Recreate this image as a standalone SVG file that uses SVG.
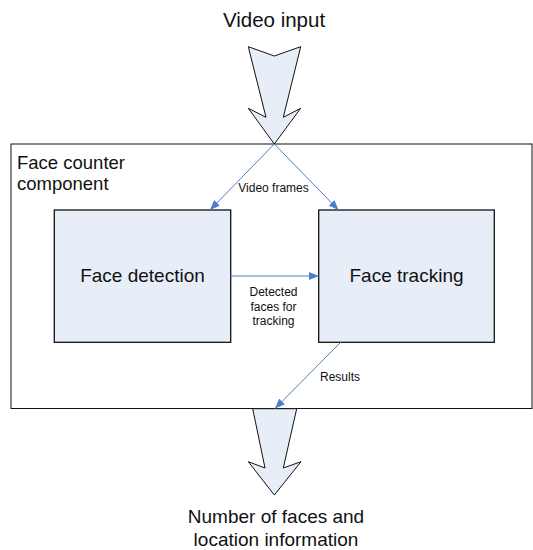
<svg xmlns="http://www.w3.org/2000/svg" width="533" height="550" viewBox="0 0 533 550">
  <style>
    text { font-family: "Liberation Sans", Arial, sans-serif; fill: #111; }
    .big { font-size: 19px; }
    .small { font-size: 12px; }
    .mid { text-anchor: middle; }
    .box { fill: #e8eef8; stroke: #111; stroke-width: 1.3; }
    .fat { fill: #e8eef8; stroke: #111; stroke-width: 1; stroke-linejoin: miter; }
    .link { fill: none; stroke: #4a7fcc; stroke-width: 1; }
  </style>
  <defs>
    <marker id="head" viewBox="0 0 10 8" refX="10" refY="4" markerWidth="10" markerHeight="8" markerUnits="userSpaceOnUse" orient="auto">
      <path d="M0,0 L10,4 L0,8 Z" fill="#4a7fcc"/>
    </marker>
  </defs>

  <rect width="533" height="550" fill="#fff"/>

  <!-- input block arrow -->
  <g id="video-input">
    <text class="big mid" x="274" y="27" style="font-size:20.5px">Video input</text>
    <path class="fat" d="M248.3,46.7 L274.3,56 L300.7,46.7 L283.3,117.3 L300.7,108.3 L274.3,144 L248.3,108.3 L266,117.3 Z"/>
  </g>

  <!-- container -->
  <g id="face-counter">
    <rect x="11" y="144" width="521" height="264.5" fill="none" stroke="#111" stroke-width="1"/>
    <text class="big" x="17" y="169" style="font-size:18.5px">Face counter</text>
    <text class="big" x="17" y="190" style="font-size:18.5px">component</text>
  </g>

  <g id="face-detection">
    <rect class="box" x="54.3" y="210" width="176.4" height="132.3"/>
    <text class="big mid" x="142.5" y="282">Face detection</text>
  </g>

  <g id="face-tracking">
    <rect class="box" x="318.7" y="210" width="175.6" height="132.3"/>
    <text class="big mid" x="406.5" y="282">Face tracking</text>
  </g>

  <!-- output block arrow -->
  <g id="output">
    <path class="fat" d="M252.7,408.7 L296.7,408.7 L283.3,468 L301,461.7 L274.3,495 L248.3,461.7 L265,468 Z"/>
    <text class="big mid" x="276" y="523">Number of faces and</text>
    <text class="big mid" x="276" y="546">location information</text>
  </g>

  <g id="connectors">
    <path class="link" d="M274.3,144 L210,210" marker-end="url(#head)"/>
    <path class="link" d="M274.3,144 L338.5,210" marker-end="url(#head)"/>
    <path class="link" d="M230.7,276 L318.7,276" marker-end="url(#head)"/>
    <path class="link" d="M340.7,342.3 L275,408.5" marker-end="url(#head)"/>
    <text class="small mid" x="273.5" y="192">Video frames</text>
    <text class="small mid" x="273.5" y="296">Detected</text>
    <text class="small mid" x="273.5" y="310.5">faces for</text>
    <text class="small mid" x="273.5" y="324.5">tracking</text>
    <text class="small" x="320" y="381">Results</text>
  </g>
</svg>
